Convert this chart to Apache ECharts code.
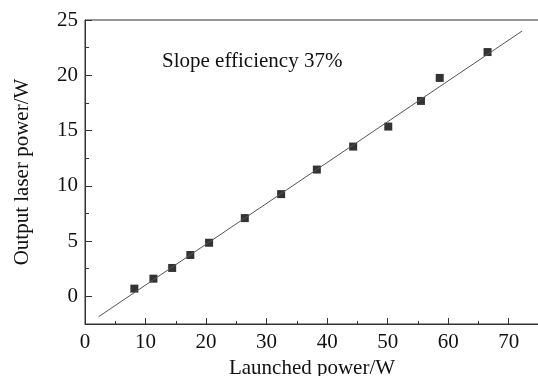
<!DOCTYPE html>
<html>
<head>
<meta charset="utf-8">
<script src="https://cdn.jsdelivr.net/npm/echarts@6/dist/echarts.min.js"></script>
<style>html,body{margin:0;padding:0;background:#fff;}#c{width:538px;height:376px;}</style>
</head>
<body>
<div id="c"></div>
<script>
// Measured data points (launched power W, output laser power W)
var launchedPower = [8.15, 11.3, 14.4, 17.4, 20.5, 26.4, 32.4, 38.3, 44.3, 50.1, 55.5, 58.6, 66.5];
var outputPower   = [0.7, 1.6, 2.57, 3.74, 4.85, 7.08, 9.25, 11.47, 13.55, 15.36, 17.68, 19.76, 22.1];
// Linear fit line endpoints
var fitX = [2.25, 72.2];
var fitY = [-1.84, 24.0];
// Tick labels
var xTicks = [0, 10, 20, 30, 40, 50, 60, 70];
var xMinorTicks = [5, 15, 25, 35, 45, 55, 65];
var yTicks = [0, 5, 10, 15, 20, 25];
var yMinorTicks = [-2.5, 2.5, 7.5, 12.5, 17.5, 22.5];
var annotation = 'Slope efficiency 37%';
var xTitle = 'Launched power/W';
var yTitle = 'Output laser power/W';

var font = '"Liberation Serif", "Times New Roman", serif';
var pts = launchedPower.map(function (x, i) { return [x, outputPower[i]]; });
var fit = fitX.map(function (x, i) { return [x, fitY[i]]; });

var chart = echarts.init(document.getElementById('c'));
chart.setOption({
  animation: false,
  backgroundColor: '#fff',
  grid: { left: 85, top: 20, width: 454, height: 304, show: true, borderColor: '#333', borderWidth: 1,
          containLabel: false, outerBoundsMode: 'none' },
  xAxis: [{
    type: 'value', min: 0, max: 75,
    name: xTitle, nameLocation: 'middle', nameGap: 28,
    nameTextStyle: { fontFamily: font, fontSize: 21, color: '#111' },
    axisLine: { show: true, onZero: false, lineStyle: { color: '#333', width: 1 } },
    axisTick: { show: true, inside: true, length: 6, customValues: xTicks, lineStyle: { color: '#333' } },
    axisLabel: { fontFamily: font, fontSize: 21, color: '#111', margin: 8, customValues: xTicks },
    splitLine: { show: false }
  }, {
    type: 'value', min: 0, max: 75, position: 'bottom',
    axisLine: { show: false, onZero: false },
    axisTick: { show: true, inside: true, length: 3, customValues: xMinorTicks, lineStyle: { color: '#333' } },
    axisLabel: { show: false, customValues: xMinorTicks },
    splitLine: { show: false }
  }],
  yAxis: [{
    type: 'value', min: -2.5, max: 25,
    axisLabel: { fontFamily: font, fontSize: 21, color: '#111', margin: 7, customValues: yTicks },
    name: yTitle, nameLocation: 'middle', nameGap: 52,
    nameTextStyle: { fontFamily: font, fontSize: 21, color: '#111' },
    axisLine: { show: true, onZero: false, lineStyle: { color: '#333', width: 1 } },
    axisTick: { show: true, inside: true, length: 7, customValues: yTicks, lineStyle: { color: '#333' } },
    splitLine: { show: false }
  }, {
    type: 'value', min: -2.5, max: 25, position: 'left',
    axisLabel: { show: false, customValues: yMinorTicks },
    axisLine: { show: false, onZero: false },
    axisTick: { show: true, inside: true, length: 4, customValues: yMinorTicks, lineStyle: { color: '#333' } },
    splitLine: { show: false }
  }],
  graphic: [{
    type: 'text', left: 162, top: 51,
    style: { text: annotation, font: '21px ' + font, fill: '#111' }
  }],
  series: [
    { type: 'line', data: fit, symbol: 'none', lineStyle: { color: '#555', width: 1 }, silent: true },
    { type: 'scatter', data: pts, symbol: 'rect', symbolSize: 8, itemStyle: { color: '#000' } }
  ]
});
</script>
</body>
</html>
